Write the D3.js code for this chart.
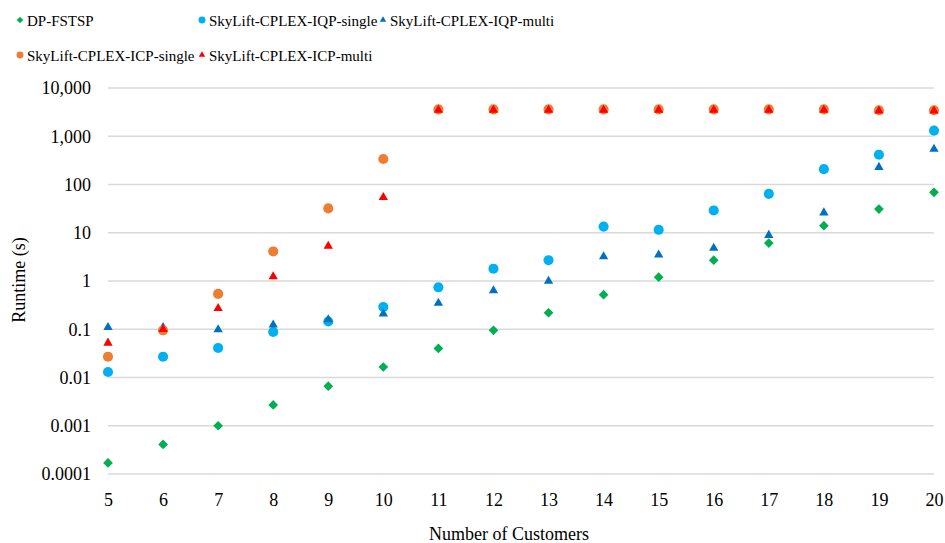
<!DOCTYPE html>
<html>
<head>
<meta charset="utf-8">
<script src="https://cdn.jsdelivr.net/npm/d3@7"></script>
<style>
  body { margin: 0; background: #fff; }
  svg, svg text { font-family: "Liberation Serif", "Times New Roman", "DejaVu Serif", serif; }
</style>
</head>
<body>
<svg id="chart" width="945" height="543"></svg>
<script>
// Number of customers (x axis)
const customers = [5, 6, 7, 8, 9, 10, 11, 12, 13, 14, 15, 16, 17, 18, 19, 20];

// Runtime in seconds
const dpFstsp    = [0.00017, 0.00041, 0.001, 0.0027, 0.0066, 0.0165, 0.04, 0.095, 0.22, 0.52, 1.2, 2.7, 6.1, 14, 31, 69];
const iqpSingle  = [0.013, 0.027, 0.041, 0.088, 0.145, 0.29, 0.74, 1.8, 2.7, 13.4, 11.5, 29, 64, 208, 415, 1310];
const iqpMulti   = [0.11, 0.11, 0.098, 0.123, 0.158, 0.21, 0.35, 0.63, 1.0, 3.2, 3.5, 4.8, 8.9, 26, 228, 540];
const icpSingle  = [0.027, 0.095, 0.54, 4.1, 32, 338, 3600, 3600, 3600, 3600, 3600, 3600, 3600, 3600, 3450, 3450];
const icpMulti   = [0.052, 0.1, 0.27, 1.23, 5.3, 54, 3500, 3500, 3500, 3500, 3500, 3500, 3500, 3500, 3350, 3350];

const yTicks = [0.0001, 0.001, 0.01, 0.1, 1, 10, 100, 1000, 10000];

// Series drawn in this order (later ones on top)
const series = [
    { name: "DP-FSTSP", values: dpFstsp, color: "#00b050", shape: "diamond" },
    { name: "SkyLift-CPLEX-IQP-single", values: iqpSingle, color: "#00b0f0", shape: "circle" },
    { name: "SkyLift-CPLEX-IQP-multi", values: iqpMulti, color: "#0070c0", shape: "triangle" },
    { name: "SkyLift-CPLEX-ICP-single", values: icpSingle, color: "#ed7d31", shape: "circle" },
    { name: "SkyLift-CPLEX-ICP-multi", values: icpMulti, color: "#ff0000", shape: "triangle" }
];

const font = '"Liberation Serif", "Times New Roman", "DejaVu Serif", serif';

const margin = { top: 88, right: 11, bottom: 69, left: 108 };
const width = 945 - margin.left - margin.right;
const height = 543 - margin.top - margin.bottom;

const svg = d3.select("#chart");
const g = svg.append("g").attr("transform", `translate(${margin.left},${margin.top})`);

const x = d3.scaleLinear().domain([5, 20]).range([0, width]);
const y = d3.scaleLog().domain([0.0001, 10000]).range([height, 0]);

// Gridlines
g.selectAll(".grid")
    .data(yTicks)
    .enter().append("line")
    .attr("x1", 0)
    .attr("x2", width)
    .attr("y1", d => y(d))
    .attr("y2", d => y(d))
    .attr("stroke", "#d9d9d9")
    .attr("stroke-width", 1.3);

// Y axis labels
const yAxis = g.append("g")
    .call(d3.axisLeft(y).tickValues(yTicks).tickSize(0).tickPadding(17)
        .tickFormat(d => d >= 1 ? d3.format(",")(d) : String(d)));
yAxis.attr("font-family", null);
yAxis.select(".domain").remove();
yAxis.selectAll("text").attr("font-size", 18).attr("fill", "#000").style("font-family", font);

// X axis labels
const xAxis = g.append("g")
    .attr("transform", `translate(0,${height})`)
    .call(d3.axisBottom(x).tickValues(customers).tickSize(0).tickPadding(19).tickFormat(d3.format("d")));
xAxis.attr("font-family", null);
xAxis.select(".domain").remove();
xAxis.selectAll("text").attr("font-size", 18).attr("fill", "#000").style("font-family", font);

// Axis titles
svg.append("text")
    .attr("x", 509)
    .attr("y", 540)
    .attr("text-anchor", "middle")
    .attr("font-size", 18)
    .style("font-family", font)
    .text("Number of Customers");

svg.append("text")
    .attr("transform", `translate(25,280) rotate(-90)`)
    .attr("text-anchor", "middle")
    .attr("font-size", 18)
    .style("font-family", font)
    .text("Runtime (s)");

// Marker symbols
const symbolFor = {
    diamond: d3.symbol().type(d3.symbolDiamond2).size(60),
    circle: d3.symbol().type(d3.symbolCircle).size(80),
    triangle: d3.symbol().type(d3.symbolTriangle2).size(62)
};

series.forEach(s => {
    g.append("g")
        .selectAll("path")
        .data(s.values)
        .enter().append("path")
        .attr("d", symbolFor[s.shape])
        .attr("transform", (d, i) => `translate(${x(customers[i])},${y(d)})`)
        .attr("fill", s.color);
});

// Legend
const legendPos = [
    { x: 20, y: 20 }, { x: 202, y: 20 }, { x: 383, y: 20 },
    { x: 20, y: 55 }, { x: 202, y: 55 }
];
const legendSymbol = {
    diamond: d3.symbol().type(d3.symbolDiamond2).size(28),
    circle: d3.symbol().type(d3.symbolCircle).size(38),
    triangle: d3.symbol().type(d3.symbolTriangle2).size(30)
};

series.forEach((s, i) => {
    const item = svg.append("g").attr("transform", `translate(${legendPos[i].x},${legendPos[i].y})`);
    item.append("path").attr("d", legendSymbol[s.shape]).attr("fill", s.color);
    item.append("text")
        .attr("x", 7)
        .attr("y", 5.5)
        .attr("font-size", 15)
        .style("font-family", font)
        .text(s.name);
});
</script>
</body>
</html>
